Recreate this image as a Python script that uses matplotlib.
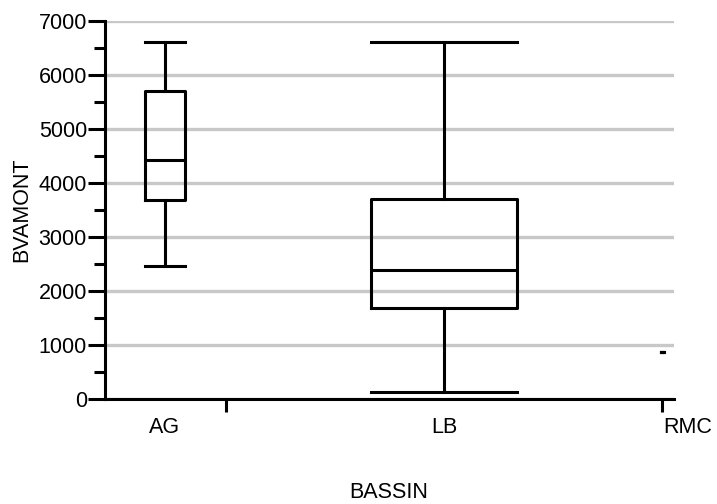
import matplotlib
matplotlib.use("Agg")
import matplotlib.pyplot as plt
from matplotlib.ticker import MultipleLocator

plt.rcParams['font.family'] = ['Liberation Sans', 'DejaVu Sans']

# data
bassins = ['AG', 'LB', 'RMC']
whislo = [2460, 130, 870]
q1 = [3690, 1680, 870]
med = [4430, 2390, 870]
q3 = [5700, 3700, 870]
whishi = [6600, 6600, 870]

# layout (x in pixel-like units along the axis)
positions = [60, 339, 558]
widths = [40, 145, 3]
sep_ticks = [121, 557]

fig = plt.figure(figsize=(7.17, 5.04), dpi=100)
ax = fig.add_axes([105 / 717, (504 - 399.3) / 504, 569 / 717, 378.6 / 504])

stats = []
for i, name in enumerate(bassins):
    stats.append(dict(label=name, whislo=whislo[i], q1=q1[i], med=med[i],
                      q3=q3[i], whishi=whishi[i], fliers=[]))

lw = 2.2
ax.bxp(stats, positions=positions, widths=widths, showfliers=False,
       boxprops=dict(color='black', linewidth=lw),
       whiskerprops=dict(color='black', linewidth=lw),
       capprops=dict(color='black', linewidth=lw),
       medianprops=dict(color='black', linewidth=lw),
       capwidths=widths, zorder=3)

ax.set_xlim(0, 569)
ax.set_ylim(0, 7000)

ax.spines['top'].set_visible(False)
ax.spines['right'].set_visible(False)
ax.spines['left'].set_linewidth(lw)
ax.spines['bottom'].set_linewidth(lw)

ax.yaxis.set_major_locator(MultipleLocator(1000))
ax.yaxis.set_minor_locator(MultipleLocator(500))
ax.tick_params(axis='y', which='major', length=12, width=lw, pad=1, labelsize=15.5)
ax.tick_params(axis='y', which='minor', length=8, width=lw)
ax.yaxis.grid(True, color='#c8c8c8', linewidth=2.4, zorder=0)
ax.set_axisbelow(True)

ax.set_xticks(positions)
ax.set_xticklabels(bassins)
ax.set_xticks(sep_ticks, minor=True)
ax.tick_params(axis='x', which='major', length=0, pad=13, labelsize=15.5)
ax.tick_params(axis='x', which='minor', length=9.5, width=lw)
labels = ax.get_xticklabels()
labels[2].set_horizontalalignment('left')

fig.text(22 / 717, 1 - 210 / 504, 'BVAMONT', rotation=90, ha='center', va='center', fontsize=15.5)
fig.text(389 / 717, 1 - 493 / 504, 'BASSIN', ha='center', va='center', fontsize=15.5)

fig.savefig('out.png', dpi=100)
